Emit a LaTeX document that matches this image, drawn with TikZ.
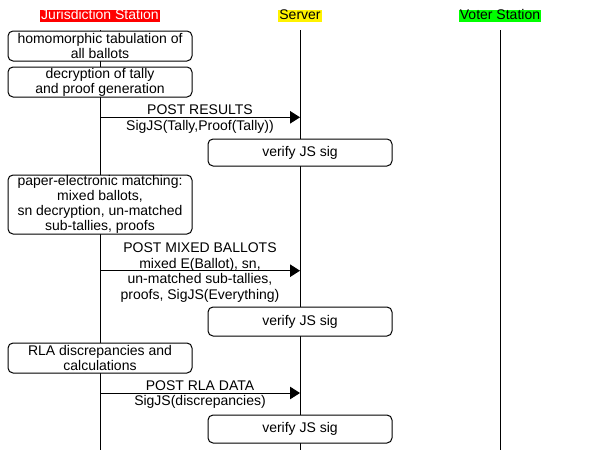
\documentclass[tikz,border=0pt]{standalone}
\usepackage{fontspec}
\setmainfont{Liberation Sans}
\usetikzlibrary{arrows.meta}

\begin{document}
\begin{tikzpicture}
        [x=1pt,y=-1pt,line width=1pt,
        every node/.style={font=\fontsize{14}{15}\selectfont,align=center,inner sep=0},
        entity/.style={inner xsep=1pt,text height=10pt,text depth=2.5pt},
        action/.style={draw,fill=white,rounded corners=5pt,minimum width=184pt},
        msg/.style={-{Triangle[length=10pt,width=12.5pt]}},
        msglabel/.style={font=\fontsize{14}{15.5}\selectfont}]

        \useasboundingbox (0,0) rectangle (600,450);

        \node[entity,fill=red,text=white] (js) at (100,16) {Jurisdiction Station};
        \node[entity,fill=yellow] (srv) at (300,16) {Server};
        \node[entity,fill=green] (vs) at (500,16) {Voter Station};

        \coordinate (js top) at (100,30);
        \coordinate (js bot) at (100,450);
        \coordinate (srv top) at (300,30);
        \coordinate (srv bot) at (300,450);
        \coordinate (vs top) at (500,30);
        \coordinate (vs bot) at (500,450);

        \draw (js top) -- (js bot);
        \draw (srv top) -- (srv bot);
        \draw (vs top) -- (vs bot);

        \coordinate (js results) at (100,117.3);
        \coordinate (srv results) at (300,117.3);
        \coordinate (js mixed) at (100,270.7);
        \coordinate (srv mixed) at (300,270.7);
        \coordinate (js rla) at (100,393);
        \coordinate (srv rla) at (300,393);

        \draw[msg] (js results) -- (srv results);
        \draw[msg] (js mixed) -- (srv mixed);
        \draw[msg] (js rla) -- (srv rla);

        \node[action,minimum height=30pt] (tabulate) at (100,46) {homomorphic tabulation of\\all ballots};
        \node[action,minimum height=30pt] (decrypt) at (100,82) {decryption of tally\\and proof generation};
        \node[action,minimum height=27pt] (verify results) at (300,152.5) {verify JS sig};
        \node[action,minimum height=59pt] (match) at (100,204.5) {paper-electronic matching:\\mixed ballots,\\sn decryption, un-matched\\sub-tallies, proofs};
        \node[action,minimum height=29pt] (verify mixed) at (300,321.5) {verify JS sig};
        \node[action,minimum height=30pt] (rla calc) at (100,358) {RLA discrepancies and\\calculations};
        \node[action,minimum height=28pt] (verify rla) at (300,429) {verify JS sig};

        \node[msglabel] (results) at (200,119) {POST RESULTS\\SigJS(Tally,Proof(Tally))};
        \node[msglabel] (mixed) at (200,272.5) {POST MIXED BALLOTS\\mixed E(Ballot), sn,\\un-matched sub-tallies,\\proofs, SigJS(Everything)};
        \node[msglabel] (rla data) at (200,394.5) {POST RLA DATA\\SigJS(discrepancies)};
      \end{tikzpicture}
\end{document}
